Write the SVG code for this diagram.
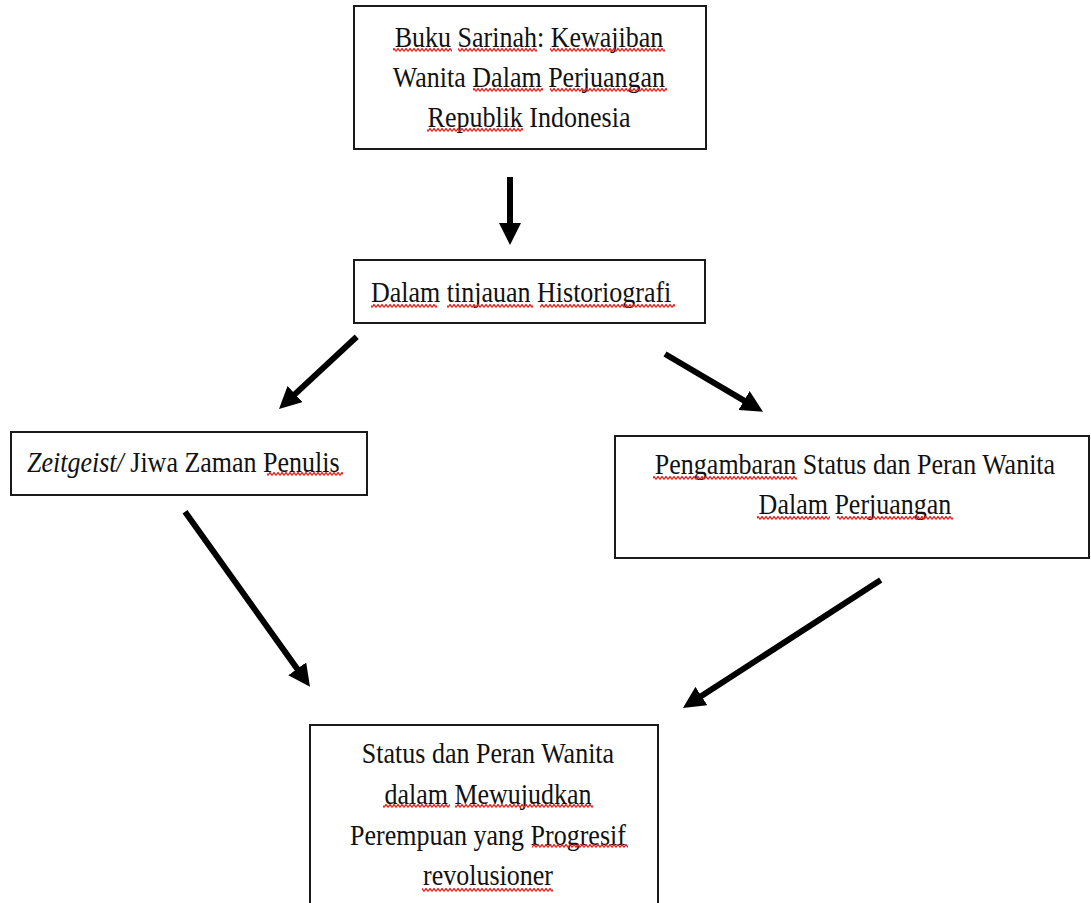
<svg xmlns="http://www.w3.org/2000/svg" width="1091" height="903" viewBox="0 0 1091 903">
<style>
.box{fill:#fff;stroke:#1a1a1a;stroke-width:2}
.t{font-family:"Liberation Serif","Times New Roman",serif;font-size:26px;fill:#111}
.c{text-anchor:middle}
.arr{stroke:#000;stroke-width:6;fill:none;marker-end:url(#ah)}
.sq{fill:url(#wave)}
</style>
<defs>
<marker id="ah" markerUnits="userSpaceOnUse" viewBox="0 0 22 22" markerWidth="22" markerHeight="22" refX="6" refY="11" orient="auto">
<path d="M0,0 L22,11 L0,22 Z" fill="#000"/>
</marker>
<pattern id="wave" patternUnits="userSpaceOnUse" width="4" height="4">
<polyline points="0,3.5 2,0.5 4,3.5" fill="none" stroke="#e8201c" stroke-width="1.3"/>
</pattern>
</defs>
<rect width="1091" height="903" fill="#fff"/>
<g id="connectors">
<line class="arr" x1="510" y1="177" x2="510" y2="229"/>
<line class="arr" x1="356.7" y1="336.7" x2="290.7" y2="398.1"/>
<line class="arr" x1="665" y1="354" x2="749.2" y2="403.6"/>
<line class="arr" x1="185" y1="511.7" x2="300.7" y2="673.7"/>
<line class="arr" x1="880.7" y1="580" x2="696.4" y2="699.3"/>
</g>
<g id="node-buku">
<rect class="box" x="354" y="6" width="352" height="143"/>
<text class="t c" x="529" y="0" transform="matrix(1,0,0,1.1,0,47)">Buku Sarinah: Kewajiban</text>
<text class="t c" x="529" y="0" transform="matrix(1,0,0,1.1,0,87)">Wanita Dalam Perjuangan</text>
<text class="t c" x="529" y="0" transform="matrix(1,0,0,1.1,0,127)">Republik Indonesia</text>
<rect class="sq" x="393" y="48" width="59" height="4"/>
<rect class="sq" x="458" y="48" width="79" height="4"/>
<rect class="sq" x="550" y="48" width="115" height="4"/>
<rect class="sq" x="473" y="88" width="70" height="4"/>
<rect class="sq" x="550" y="88" width="117" height="4"/>
<rect class="sq" x="427" y="128" width="96" height="4"/>
</g>
<g id="node-historiografi">
<rect class="box" x="354" y="260" width="351" height="63"/>
<text class="t" x="371" y="0" transform="matrix(1,0,0,1.1,0,302)">Dalam tinjauan Historiografi</text>
<rect class="sq" x="371" y="304" width="66" height="4"/>
<rect class="sq" x="447" y="304" width="86" height="4"/>
<rect class="sq" x="540" y="304" width="135" height="4"/>
</g>
<g id="node-zeitgeist">
<rect class="box" x="11" y="432" width="356" height="63"/>
<text class="t" x="27" y="0" transform="matrix(1,0,0,1.1,0,472)"><tspan font-style="italic">Zeitgeist/</tspan> Jiwa Zaman Penulis</text>
<rect class="sq" x="267" y="472" width="76" height="4"/>
</g>
<g id="node-pengambaran">
<rect class="box" x="615" y="436" width="474" height="122"/>
<text class="t c" x="855" y="0" transform="matrix(1,0,0,1.1,0,474)">Pengambaran Status dan Peran Wanita</text>
<text class="t c" x="855" y="0" transform="matrix(1,0,0,1.1,0,514)">Dalam Perjuangan</text>
<rect class="sq" x="653" y="476" width="144" height="4"/>
<rect class="sq" x="757" y="516" width="73" height="4"/>
<rect class="sq" x="837" y="516" width="116" height="4"/>
</g>
<g id="node-status">
<rect class="box" x="310" y="725" width="348" height="190"/>
<text class="t c" x="488" y="0" transform="matrix(1,0,0,1.1,0,763)">Status dan Peran Wanita</text>
<text class="t c" x="488" y="0" transform="matrix(1,0,0,1.1,0,804)">dalam Mewujudkan</text>
<text class="t c" x="488" y="0" transform="matrix(1,0,0,1.1,0,845)">Perempuan yang Progresif</text>
<text class="t c" x="488" y="0" transform="matrix(1,0,0,1.1,0,885)">revolusioner</text>
<rect class="sq" x="383" y="804" width="67" height="4"/>
<rect class="sq" x="455" y="804" width="138" height="4"/>
<rect class="sq" x="532" y="844" width="96" height="4"/>
<rect class="sq" x="422" y="888" width="131" height="4"/>
</g>
</svg>
